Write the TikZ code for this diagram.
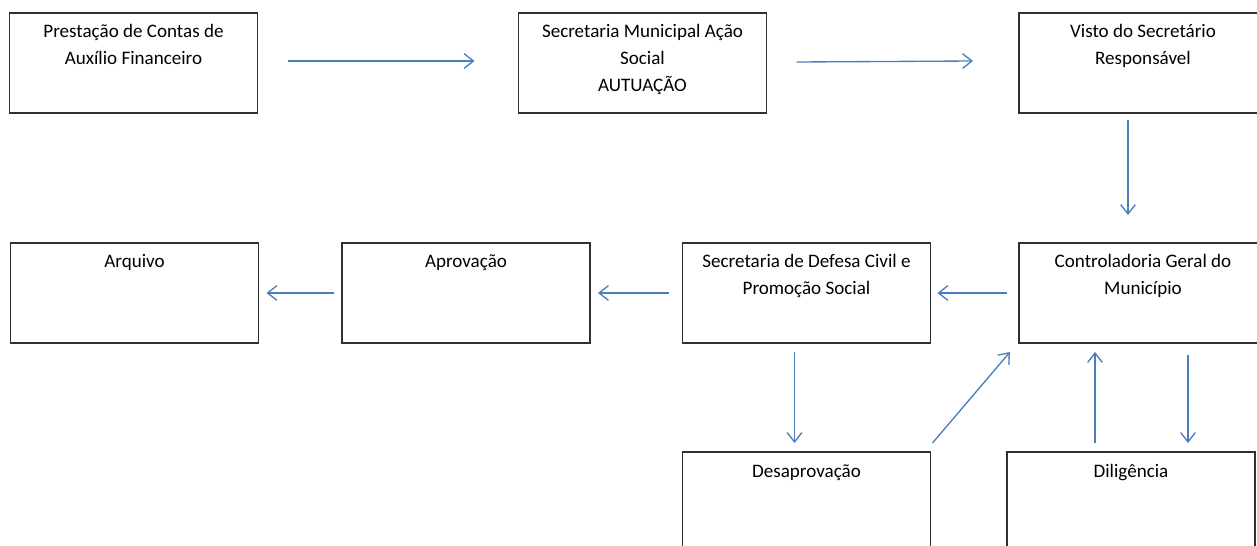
\documentclass[tikz,border=0pt]{standalone}
\usepackage{fontspec}
\setmainfont{Carlito}
\usetikzlibrary{arrows.meta,calc}
\definecolor{arrblue}{HTML}{4A7EBB}
\definecolor{boxline}{HTML}{303030}
\newcommand\tstrut{\rule{0pt}{14pt}}
\begin{document}
\begin{tikzpicture}[x=0.75pt,y=-0.75pt,
  box/.style={draw=boxline,line width=1.1pt,minimum width=186pt,minimum height=75pt,inner sep=0pt,outer sep=0pt},
  tallbox/.style={box,minimum height=82.5pt},
  txt/.style={align=center,inner sep=0pt,outer sep=0pt,anchor=north,font=\fontsize{14.3pt}{19.9pt}\selectfont},
  arr/.style={draw=arrblue,line width=1pt,-{Straight Barb[length=7pt,width=11pt]}}]
\useasboundingbox (0,0) rectangle (1257,546);
\clip (0,0) rectangle (1257,546);
% boxes
\node[box] (pc) at (133.5,63) {};
\node[box] (sm) at (642.5,63) {};
\node[box] (vis) at (1143,63) {};
\node[box] (arq) at (134.5,293) {};
\node[box] (aprov) at (466,293) {};
\node[box] (sdef) at (806.5,293) {};
\node[box] (ctrl) at (1143,293) {};
\node[tallbox] (desap) at (806.5,507) {};
\node[tallbox] (dil) at (1131,507) {};
% texts
\node[txt] (pc-t) at ($(pc.north)+(0,6.33)$) {\tstrut Prestação de Contas de\\Auxílio Financeiro};
\node[txt] (sm-t) at ($(sm.north)+(0,6.33)$) {\tstrut Secretaria Municipal Ação\\Social\\AUTUAÇÃO};
\node[txt] (vis-t) at ($(vis.north)+(0,6.33)$) {\tstrut Visto do Secretário\\Responsável};
\node[txt] (arq-t) at ($(arq.north)+(0,6.33)$) {\tstrut Arquivo};
\node[txt] (aprov-t) at ($(aprov.north)+(0,6.33)$) {\tstrut Aprovação};
\node[txt] (sdef-t) at ($(sdef.north)+(0,6.33)$) {\tstrut Secretaria de Defesa Civil e\\Promoção Social};
\node[txt] (ctrl-t) at ($(ctrl.north)+(0,6.33)$) {\tstrut Controladoria Geral do\\Município};
\node[txt] (desap-t) at ($(desap.north)+(0,6.33)$) {\tstrut Desaprovação};
\node[txt] (dil-t) at ($(dil.north)+(0,6.33)$) {\tstrut Diligência};
% arrows
\draw[arr] ($(pc.east)+(30,-2)$) -- ($(sm.west)+(-44,-2)$);
\draw[arr] ($(sm.east)+(30,-1)$) -- ($(vis.west)+(-46,-2)$);
\draw[arr] ($(vis.south west)+(109,7)$) -- ($(ctrl.north west)+(109,-28)$);
\draw[arr] ($(ctrl.west)+(-12,0)$) -- ($(sdef.east)+(7,0)$);
\draw[arr] ($(sdef.west)+(-14,0)$) -- ($(aprov.east)+(8,0)$);
\draw[arr] ($(aprov.west)+(-8,0)$) -- ($(arq.east)+(8,0)$);
\draw[arr] ($(sdef.south west)+(112,9)$) -- ($(desap.north west)+(112,-9)$);
\draw[arr] ($(desap.north east)+(2,-9)$) -- ($(ctrl.south west)+(-9,9)$);
\draw[arr] ($(dil.north west)+(88,-9)$) -- ($(ctrl.south west)+(76,9)$);
\draw[arr] ($(ctrl.south west)+(169,12)$) -- ($(dil.north west)+(181,-9)$);
\end{tikzpicture}
\end{document}
